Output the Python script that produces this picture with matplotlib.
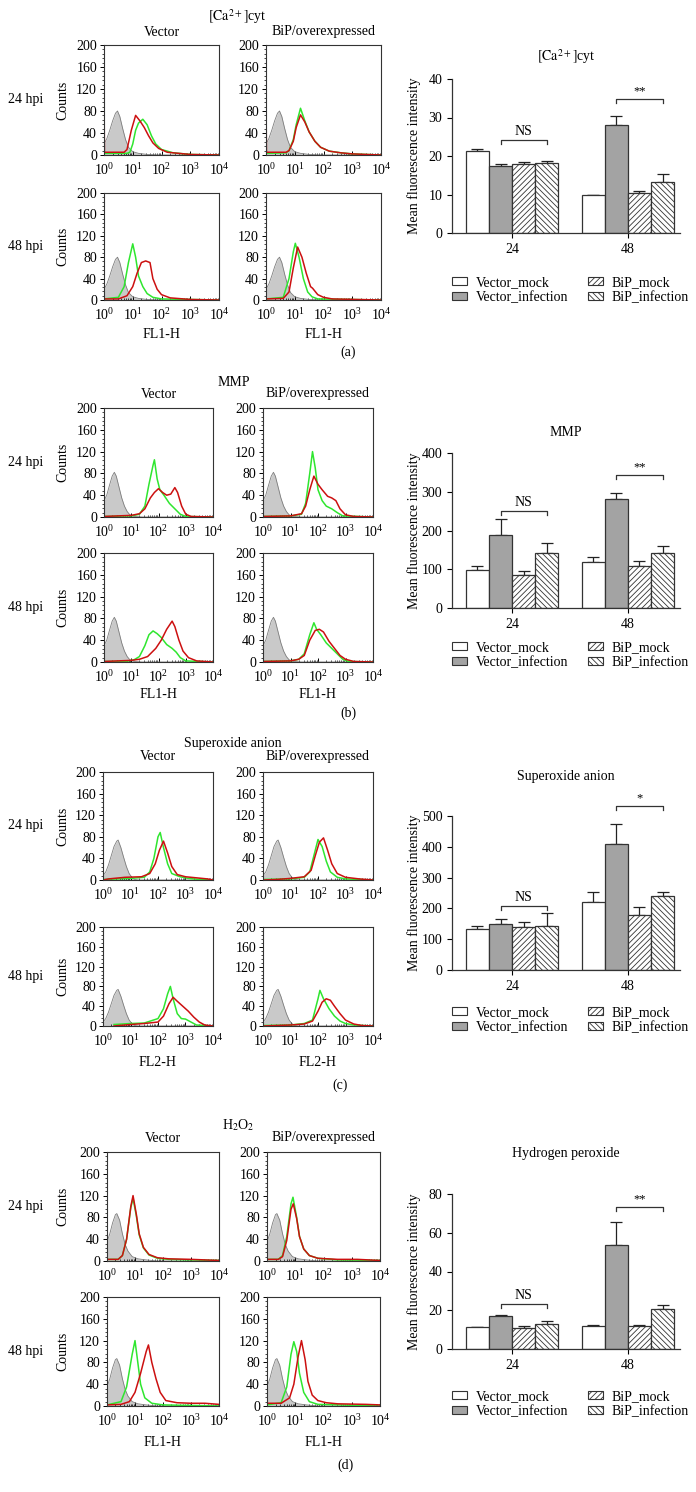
"""Flow-cytometry histograms + mean fluorescence bar charts, 4 blocks (a)-(d)."""
import matplotlib
matplotlib.use("Agg")
import matplotlib.pyplot as plt
from matplotlib.patches import Patch
from matplotlib.ticker import LogLocator, LogFormatterMathtext, MultipleLocator, NullFormatter

W, H = 696, 1492
plt.rcParams["font.family"] = ["Liberation Serif", "DejaVu Serif"]
plt.rcParams["mathtext.fontset"] = "stix"
plt.rcParams["font.size"] = 9.5
plt.rcParams["hatch.linewidth"] = 0.6

# ---------------- bar chart data ----------------
GROUPS = ["24", "48"]
SERIES = ["Vector_mock", "Vector_infection", "BiP_mock", "BiP_infection"]

ca_mean = [[21.3, 17.3, 17.9, 18.1], [10.0, 28.0, 10.4, 13.2]]
ca_err = [[0.4, 0.6, 0.5, 0.6], [0.0, 2.4, 0.4, 2.2]]
ca_sig = ["NS", "**"]
ca_sig_y = [24.1, 34.8]

mmp_mean = [[97, 188, 84, 142], [120, 281, 108, 143]]
mmp_err = [[11, 41, 11, 26], [12, 16, 14, 17]]
mmp_sig = ["NS", "**"]
mmp_sig_y = [250, 343]

sox_mean = [[134, 150, 141, 143], [221, 408, 179, 241]]
sox_err = [[8, 16, 15, 41], [31, 65, 24, 11]]
sox_sig = ["NS", "*"]
sox_sig_y = [208, 531]

h2o2_mean = [[11.1, 17.1, 10.9, 13.1], [11.8, 53.6, 12.1, 20.6]]
h2o2_err = [[0.5, 0.7, 1.0, 1.1], [0.8, 11.8, 0.2, 2.1]]
h2o2_sig = ["NS", "**"]
h2o2_sig_y = [23.4, 73.2]

# ---------------- histogram data: (log10 FL, counts) ----------------
gray_a = [(0, 20), (0.1, 30), (0.2, 45), (0.3, 62), (0.4, 76), (0.47, 80), (0.55, 70), (0.65, 48),
          (0.75, 28), (0.85, 14), (1.0, 6), (1.2, 3), (1.5, 1), (2.0, 0), (4.0, 0)]
gray_b = [(0, 30), (0.1, 40), (0.2, 58), (0.3, 75), (0.38, 82), (0.45, 75), (0.55, 55), (0.65, 35),
          (0.75, 20), (0.85, 10), (0.95, 4), (1.1, 1), (1.4, 0), (4.0, 0)]
gray_c = [(0, 8), (0.1, 15), (0.2, 28), (0.3, 45), (0.4, 62), (0.5, 72), (0.55, 74), (0.65, 60),
          (0.75, 42), (0.85, 25), (0.95, 12), (1.05, 5), (1.15, 1), (1.3, 0), (4.0, 0)]
gray_d = [(0, 35), (0.1, 50), (0.2, 70), (0.3, 85), (0.35, 87), (0.45, 75), (0.55, 50), (0.65, 30),
          (0.75, 18), (0.9, 8), (1.1, 4), (1.4, 2), (1.8, 0), (4.0, 0)]

# (a) [Ca2+]cyt
a24_vec_green = [(0, 3), (0.8, 3), (0.9, 5), (1.0, 20), (1.1, 45), (1.2, 58), (1.35, 65), (1.5, 55),
                 (1.65, 35), (1.8, 20), (2.0, 10), (2.4, 4), (3.0, 1), (4.0, 0)]
a24_vec_red = [(0, 125), (0.015, 5), (0.7, 5), (0.8, 10), (0.95, 45), (1.1, 72), (1.25, 62), (1.4, 50),
               (1.55, 35), (1.7, 22), (1.9, 12), (2.2, 5), (2.6, 3), (3.0, 1), (4.0, 0)]
a24_bip_green = [(0, 3), (0.7, 4), (0.8, 8), (0.95, 28), (1.05, 55), (1.2, 85), (1.35, 62), (1.5, 42),
                 (1.7, 25), (1.9, 14), (2.2, 7), (2.6, 4), (3.0, 2), (3.5, 1), (4.0, 0)]
a24_bip_red = [(0, 105), (0.015, 5), (0.7, 5), (0.8, 8), (0.95, 25), (1.05, 50), (1.2, 73), (1.35, 60),
               (1.5, 42), (1.7, 25), (1.9, 14), (2.2, 7), (2.6, 4), (3.0, 2), (3.5, 1), (4.0, 0)]
a48_vec_green = [(0, 2), (0.5, 5), (0.7, 25), (0.85, 70), (1.0, 105), (1.1, 80), (1.2, 45), (1.35, 25),
                 (1.5, 12), (1.7, 5), (2.0, 2), (4.0, 0)]
a48_vec_red = [(0, 2), (0.5, 2), (0.8, 8), (1.0, 25), (1.15, 50), (1.3, 70), (1.45, 73), (1.6, 70),
               (1.7, 40), (1.85, 20), (2.0, 10), (2.3, 4), (3.0, 1), (4.0, 0)]
a48_bip_green = [(0, 2), (0.6, 5), (0.8, 40), (0.95, 90), (1.02, 106), (1.15, 80), (1.3, 40),
                 (1.45, 15), (1.6, 6), (1.8, 2), (4.0, 0)]
a48_bip_red = [(0, 2), (0.6, 3), (0.8, 15), (0.95, 60), (1.1, 99), (1.25, 80), (1.4, 50), (1.55, 25),
               (1.62, 22), (1.8, 10), (2.0, 5), (2.3, 2), (4.0, 0)]

# (b) MMP
b24_vec_green = [(0, 1), (1.0, 2), (1.3, 5), (1.5, 20), (1.65, 60), (1.8, 95), (1.85, 105), (1.95, 70),
                 (2.05, 50), (2.2, 40), (2.4, 25), (2.6, 15), (2.8, 5), (3.0, 1), (4.0, 0)]
b24_vec_red = [(0, 1), (1.0, 3), (1.3, 6), (1.5, 15), (1.7, 35), (1.85, 45), (2.0, 52), (2.15, 45),
               (2.3, 40), (2.45, 42), (2.6, 54), (2.7, 45), (2.85, 20), (3.0, 5), (3.2, 1), (4.0, 0)]
b24_bip_green = [(0, 1), (1.0, 2), (1.4, 5), (1.55, 25), (1.7, 80), (1.8, 120), (1.9, 90), (2.0, 50),
                 (2.15, 30), (2.3, 20), (2.5, 15), (2.7, 8), (2.9, 2), (4.0, 0)]
b24_bip_red = [(0, 1), (1.0, 2), (1.4, 6), (1.55, 20), (1.7, 50), (1.85, 75), (2.0, 60), (2.15, 50),
               (2.35, 38), (2.5, 35), (2.65, 30), (2.8, 15), (3.0, 4), (3.3, 1), (4.0, 0)]
b48_vec_green = [(0, 1), (0.8, 1), (1.1, 4), (1.3, 10), (1.5, 30), (1.65, 50), (1.8, 57), (1.95, 52),
                 (2.1, 45), (2.3, 32), (2.5, 25), (2.65, 18), (2.8, 8), (3.0, 2), (4.0, 0)]
b48_vec_red = [(0, 1), (1.0, 3), (1.3, 5), (1.6, 10), (1.9, 25), (2.1, 40), (2.3, 60), (2.5, 75),
               (2.6, 65), (2.75, 40), (2.9, 20), (3.1, 8), (3.4, 2), (4.0, 0)]
b48_bip_green = [(0, 1), (1.0, 2), (1.3, 5), (1.5, 15), (1.7, 50), (1.85, 72), (1.95, 60), (2.1, 50),
                 (2.3, 35), (2.5, 25), (2.7, 15), (2.9, 5), (3.1, 1), (4.0, 0)]
b48_bip_red = [(0, 1), (1.0, 2), (1.3, 5), (1.5, 12), (1.7, 40), (1.9, 58), (2.05, 60), (2.2, 55),
               (2.4, 38), (2.6, 25), (2.8, 12), (3.0, 5), (3.3, 1), (4.0, 0)]

# (c) superoxide anion
c24_vec_green = [(0, 1), (1.0, 3), (1.5, 5), (1.7, 15), (1.85, 40), (2.0, 80), (2.08, 88), (2.2, 60),
                 (2.35, 30), (2.5, 12), (2.8, 6), (3.1, 3), (3.5, 1), (4.0, 0)]
c24_vec_red = [(0, 0), (0.2, 2), (0.8, 5), (1.4, 6), (1.7, 12), (1.9, 30), (2.05, 55), (2.2, 72),
               (2.35, 50), (2.5, 25), (2.7, 10), (3.0, 6), (3.4, 4), (3.8, 2), (4.0, 0)]
c24_bip_green = [(0, 1), (1.0, 2), (1.5, 5), (1.7, 15), (1.85, 45), (2.0, 75), (2.15, 62), (2.3, 35),
                 (2.45, 15), (2.7, 5), (3.0, 2), (4.0, 0)]
c24_bip_red = [(0, 0), (0.5, 1), (1.0, 3), (1.5, 6), (1.75, 18), (1.9, 45), (2.05, 70), (2.2, 78),
               (2.35, 55), (2.5, 30), (2.7, 12), (3.0, 5), (3.5, 2), (4.0, 0)]
c48_vec_green = [(0.4, 3), (1.0, 5), (1.5, 6), (2.0, 15), (2.2, 35), (2.35, 65), (2.45, 80), (2.55, 55),
                 (2.7, 25), (2.85, 15), (3.0, 14), (3.2, 8), (3.4, 2), (4.0, 0)]
c48_vec_red = [(0.4, 0), (1.0, 3), (1.5, 5), (2.0, 8), (2.2, 20), (2.4, 45), (2.55, 58), (2.7, 50),
               (2.9, 40), (3.1, 30), (3.3, 18), (3.5, 8), (3.7, 2), (4.0, 0)]
c48_bip_green = [(0, 1), (1.0, 2), (1.5, 5), (1.8, 12), (2.0, 55), (2.07, 72), (2.2, 55), (2.4, 35),
                 (2.6, 20), (2.8, 10), (3.0, 5), (3.3, 2), (4.0, 0)]
c48_bip_red = [(0, 0), (1.0, 2), (1.5, 4), (1.8, 10), (2.0, 30), (2.15, 48), (2.3, 55), (2.45, 52),
               (2.6, 40), (2.8, 25), (3.0, 12), (3.3, 4), (3.6, 1), (4.0, 0)]

# (d) H2O2
d24_vec_green = [(0, 3), (0.4, 3), (0.55, 10), (0.7, 40), (0.85, 98), (0.93, 115), (1.05, 82), (1.15, 48),
                 (1.3, 24), (1.5, 11), (1.8, 5), (2.2, 3), (3.0, 2), (4.0, 1)]
d24_vec_red = [(0, 3), (0.4, 3), (0.55, 10), (0.7, 40), (0.85, 100), (0.93, 120), (1.05, 85), (1.15, 50),
               (1.3, 25), (1.5, 12), (1.8, 6), (2.2, 4), (3.0, 3), (3.5, 2), (4.0, 1)]
d24_bip_green = [(0, 3), (0.4, 3), (0.55, 10), (0.7, 45), (0.85, 105), (0.92, 117), (1.05, 80),
                 (1.15, 45), (1.3, 22), (1.5, 10), (1.8, 5), (2.5, 2), (4.0, 1)]
d24_bip_red = [(0, 3), (0.4, 3), (0.55, 8), (0.7, 38), (0.85, 95), (0.93, 105), (1.05, 78), (1.15, 45),
               (1.3, 22), (1.5, 10), (1.8, 5), (2.5, 3), (3.2, 3), (4.0, 1)]
d48_vec_green = [(0, 2), (0.5, 8), (0.7, 35), (0.9, 95), (1.0, 120), (1.1, 80), (1.2, 40), (1.35, 15),
                 (1.6, 5), (2.0, 2), (4.0, 0)]
d48_vec_red = [(0, 2), (0.5, 3), (0.8, 8), (1.0, 25), (1.2, 60), (1.4, 100), (1.48, 112), (1.6, 80),
               (1.75, 50), (1.9, 25), (2.1, 10), (2.5, 6), (3.0, 5), (3.5, 5), (4.0, 3)]
d48_bip_green = [(0, 2), (0.5, 6), (0.7, 35), (0.85, 95), (0.95, 118), (1.05, 100), (1.15, 60), (1.3, 25),
                 (1.5, 8), (1.8, 3), (4.0, 0)]
d48_bip_red = [(0, 5), (0.5, 5), (0.8, 15), (0.95, 40), (1.1, 90), (1.22, 120), (1.35, 85), (1.45, 45),
               (1.6, 20), (1.8, 10), (2.1, 6), (2.5, 4), (3.5, 3), (4.0, 2)]

GREEN = "#2fe62f"
RED = "#cc1010"
FACE = ["white", "#a3a3a3", "white", "white"]
HATCH = [None, None, "//////", "\\\\\\\\\\\\"]

fig = plt.figure(figsize=(W / 100, H / 100), dpi=100)


def px_axes(left, top, right, bottom):
    return fig.add_axes([left / W, 1 - bottom / H, (right - left) / W, (bottom - top) / H])


def ftext(x, y, s, **kw):
    kw.setdefault("ha", "center")
    kw.setdefault("va", "center")
    fig.text(x / W, 1 - y / H, s, **kw)


def curve(pts):
    return [10 ** p[0] for p in pts], [p[1] for p in pts]


def hist_panel(ax, gray, green, red):
    gx, gy = curve(gray)
    ax.fill_between(gx, gy, color="#c9c9c9", lw=0)
    ax.plot(gx, gy, color="#7d7d7d", lw=0.6)
    ax.plot(*curve(green), color=GREEN, lw=1.1)
    ax.plot(*curve(red), color=RED, lw=1.1)
    ax.set_xscale("log")
    ax.set_xlim(1, 1e4)
    ax.set_ylim(0, 200)
    ax.xaxis.set_major_locator(LogLocator(base=10, numticks=10))
    ax.xaxis.set_major_formatter(LogFormatterMathtext())
    ax.xaxis.set_minor_locator(LogLocator(base=10, subs=range(2, 10), numticks=10))
    ax.xaxis.set_minor_formatter(NullFormatter())
    ax.yaxis.set_major_locator(MultipleLocator(40))
    ax.yaxis.set_minor_locator(MultipleLocator(8))
    ax.tick_params(axis="x", which="major", direction="in", length=3, width=0.7, pad=5, labelsize=10)
    ax.tick_params(axis="x", which="minor", direction="in", length=1.8, width=0.5)
    ax.tick_params(axis="y", which="major", direction="out", length=3, width=0.7, pad=2, labelsize=10)
    ax.tick_params(axis="y", which="minor", direction="out", length=1.5, width=0.5)
    for s in ax.spines.values():
        s.set_linewidth(0.8)
        s.set_color("#333333")


def bar_panel(ax, means, errs, sigs, sig_y, ymax, ystep):
    w = 0.2
    for g in range(len(GROUPS)):
        for j in range(len(SERIES)):
            x = g + (j - 1.5) * w
            ax.bar(x, means[g][j], w, color=FACE[j], edgecolor="#333333", lw=0.9,
                   hatch=HATCH[j], zorder=2)
            ax.errorbar(x, means[g][j], yerr=[[0], [errs[g][j]]], fmt="none",
                        ecolor="#222222", elinewidth=0.9, capsize=4, capthick=0.9, zorder=1)
        x1, x2 = g - 0.5 * w, g + 1.5 * w
        y = sig_y[g]
        dy = ymax * 0.025
        ax.plot([x1, x1, x2, x2], [y - dy, y, y, y - dy], color="#333333", lw=0.9, clip_on=False)
        ax.text((x1 + x2) / 2, y + ymax * 0.012, sigs[g], ha="center", va="bottom",
                fontsize=10 if sigs[g] == "NS" else 9, clip_on=False)
    ax.set_xlim(-0.52, 1.45)
    ax.set_ylim(0, ymax)
    ax.set_xticks(range(len(GROUPS)))
    ax.set_xticklabels(GROUPS)
    ax.yaxis.set_major_locator(MultipleLocator(ystep))
    ax.tick_params(direction="out", length=3.5, width=0.8, labelsize=10)
    for s in ("top", "right"):
        ax.spines[s].set_visible(False)
    for s in ("left", "bottom"):
        ax.spines[s].set_linewidth(0.9)
        ax.spines[s].set_color("#333333")
    ax.set_ylabel("Mean fluorescence intensity", fontsize=10)
    ax.yaxis.set_label_coords(-0.135, 0.5)


def legend(ax, y_top):
    handles = [Patch(facecolor=FACE[j], edgecolor="#333333", hatch=HATCH[j], lw=0.8)
               for j in range(len(SERIES))]
    ax.legend(handles, SERIES, ncol=2, frameon=False, loc="upper left",
              bbox_to_anchor=(452 / W, 1 - y_top / H), bbox_transform=fig.transFigure,
              borderpad=0, borderaxespad=0, handlelength=1.1, handleheight=0.55,
              handletextpad=0.6, columnspacing=1.4, labelspacing=0.15, fontsize=10)


def block(title, xlab, cols, rows, hists, grays, labels_y, tag_xy, bar_args):
    ftext((cols[0][0] + cols[1][1]) / 2 - 5, labels_y[0], title, fontsize=10)
    for ci, name in enumerate(["Vector", "BiP/overexpressed"]):
        ftext((cols[ci][0] + cols[ci][1]) / 2, labels_y[1], name, fontsize=10)
    for ri, hpi in enumerate(["24 hpi", "48 hpi"]):
        top, bot = rows[ri]
        ftext(26, (top + bot) / 2, hpi, fontsize=10)
        ftext(63, (top + bot) / 2, "Counts", fontsize=10, rotation=90)
        for ci in range(2):
            ax = px_axes(cols[ci][0], top, cols[ci][1], bot)
            green, red = hists[ri][ci]
            hist_panel(ax, grays, green, red)
    for ci in range(2):
        ftext((cols[ci][0] + cols[ci][1]) / 2, labels_y[2], xlab, fontsize=10)
    ftext(tag_xy[0], tag_xy[1], tag_xy[2], fontsize=10)

    (btitle, btitle_y, btop, bbot, means, errs, sigs, sig_y, ymax, ystep, leg_y) = bar_args
    bax = px_axes(452, btop, 680, bbot)
    bar_panel(bax, means, errs, sigs, sig_y, ymax, ystep)
    ftext(566, btitle_y, btitle, fontsize=10)
    legend(bax, leg_y)


CA_TITLE = r"$\left[\mathrm{Ca}^{2+}\right]$cyt"

block(CA_TITLE, "FL1-H", [(104, 219), (266, 381)], [(45, 155), (193, 300)],
      [[(a24_vec_green, a24_vec_red), (a24_bip_green, a24_bip_red)],
       [(a48_vec_green, a48_vec_red), (a48_bip_green, a48_bip_red)]],
      gray_a, (17, 32, 334), (348, 352, "(a)"),
      (CA_TITLE, 57, 79, 233, ca_mean, ca_err, ca_sig, ca_sig_y, 40, 10, 276))

block("MMP", "FL1-H", [(104, 213), (263, 373)], [(408, 517), (553, 662)],
      [[(b24_vec_green, b24_vec_red), (b24_bip_green, b24_bip_red)],
       [(b48_vec_green, b48_vec_red), (b48_bip_green, b48_bip_red)]],
      gray_b, (383, 394, 695), (348, 713, "(b)"),
      ("MMP", 433, 453, 608, mmp_mean, mmp_err, mmp_sig, mmp_sig_y, 400, 100, 641))

block("Superoxide anion", "FL2-H", [(103, 213), (263, 373)], [(772, 880), (927, 1026)],
      [[(c24_vec_green, c24_vec_red), (c24_bip_green, c24_bip_red)],
       [(c48_vec_green, c48_vec_red), (c48_bip_green, c48_bip_red)]],
      gray_c, (744, 757, 1062), (340, 1085, "(c)"),
      ("Superoxide anion", 777, 816, 970, sox_mean, sox_err, sox_sig, sox_sig_y, 500, 100, 1006))

block(r"H$_2$O$_2$", "FL1-H", [(107, 219), (267, 380)], [(1152, 1261), (1297, 1406)],
      [[(d24_vec_green, d24_vec_red), (d24_bip_green, d24_bip_red)],
       [(d48_vec_green, d48_vec_red), (d48_bip_green, d48_bip_red)]],
      gray_d, (1125, 1138, 1443), (345, 1465, "(d)"),
      ("Hydrogen peroxide", 1153, 1194, 1349, h2o2_mean, h2o2_err, h2o2_sig, h2o2_sig_y, 80, 20, 1390))

fig.savefig("out.png", dpi=100)
